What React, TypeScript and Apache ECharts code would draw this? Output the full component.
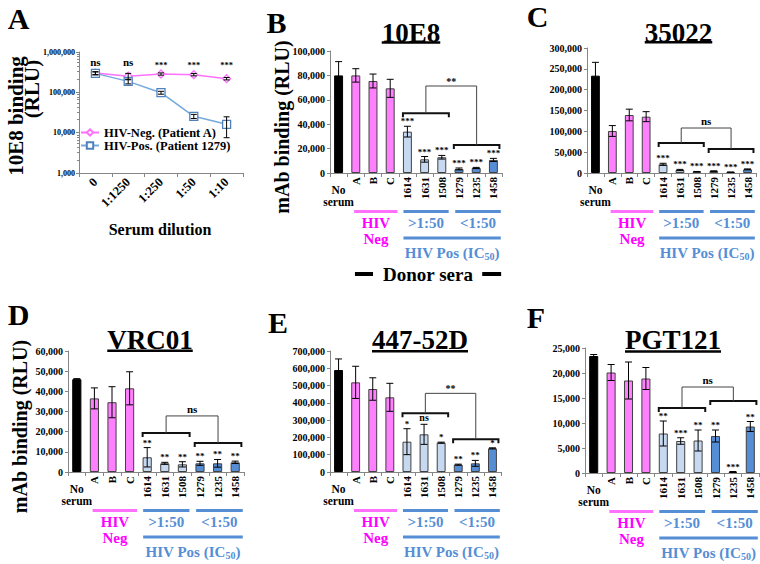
import React, { useEffect, useRef } from 'react';
import * as echarts from 'echarts';

const SERIF = "'Liberation Serif', 'Times New Roman', Times, serif";
const PINK_BAR = '#FF80FF';
const LIGHT_BLUE = '#C6D9F1';
const DARK_BLUE = '#558ED5';
const PINK_TEXT = '#FF00FF';
const PINK_LINE = '#FF70FF';
const BLUE_TEXT = '#558ED5';
const AXIS_GRAY = '#868686';

// ---------- Panel A ----------
const dilutions = ['0', '1:1250', '1:250', '1:50', '1:10'];
const negBinding = [300000, 250000, 285000, 274000, 218000];
const negError = [25000, 45000, 18000, 18000, 15000];
const posBinding = [295000, 187000, 98000, 25400, 16100];
const posError = [25000, 25000, 8000, 3000, 8600];
const dilutionSig = ['ns', 'ns', '***', '***', '***'];

// ---------- Panels B-F ----------
const donors = ['No serum', 'A', 'B', 'C', '1614', '1631', '1508', '1279', '1235', '1458'];
const donorGroup = ['none', 'neg', 'neg', 'neg', 'high', 'high', 'high', 'low', 'low', 'low'];

const b10E8 = [80000, 80000, 75400, 69400, 33900, 11200, 12900, 3300, 4100, 10700];
const b10E8Err = [11300, 5500, 5700, 7400, 4400, 2300, 1500, 800, 500, 1300];
const b10E8Sig = ['', '', '', '', '***', '***', '***', '***', '***', '***'];
const b10E8Bracket = [49000, 23000, 71300];

const b35022 = [233600, 100800, 139200, 135200, 20800, 7200, 3200, 4500, 2000, 8800];
const b35022Err = [32000, 13000, 14000, 12000, 2500, 1500, 500, 700, 300, 1000];
const b35022Sig = ['', '', '', '', '***', '***', '***', '***', '***', '***'];
const b35022Bracket = [72000, 57600, 108000];

const bVRC01 = [46000, 36500, 34600, 41500, 7300, 4300, 3800, 4300, 4300, 4800];
const bVRC01Err = [300, 5200, 7700, 8200, 4800, 500, 1300, 1000, 1900, 600];
const bVRC01Sig = ['', '', '', '', '**', '**', '**', '**', '**', '**'];
const bVRC01Bracket = [19300, 14400, 27800];

const b44752D = [590000, 518600, 480000, 432000, 175400, 217900, 169700, 42400, 50100, 136900];
const b44752DErr = [64000, 93000, 65000, 81000, 75000, 58000, 3000, 3000, 17000, 3000];
const b44752DSig = ['', '', '', '', '*', 'ns', '*', '**', '**', '*'];
const b44752DBracket = [339600, 189000, 455000];

const bPGT121 = [23400, 20100, 18500, 18900, 7900, 6400, 6500, 7400, 200, 9300];
const bPGT121Err = [300, 1600, 3700, 2200, 2500, 650, 2100, 1200, 100, 1000];
const bPGT121Sig = ['', '', '', '', '**', '***', '**', '**', '***', '**'];
const bPGT121Bracket = [13000, 14400, 17200];

const grids = [
  { left: 79, top: 52, width: 164, height: 121 },
  { left: 330, top: 51, width: 172, height: 122 },
  { left: 587, top: 48, width: 169, height: 125 },
  { left: 68, top: 351, width: 176, height: 121 },
  { left: 330, top: 351, width: 171, height: 121 },
  { left: 585, top: 348, width: 174, height: 125 },
];

const panels = [
  { title: '10E8', values: b10E8, errors: b10E8Err, sig: b10E8Sig, bracket: b10E8Bracket, bracketLabel: '**', max: 100000, interval: 20000, titleX: 411, titleY: 33, underY: 42.5, yName: true, donorSera: true },
  { title: '35022', values: b35022, errors: b35022Err, sig: b35022Sig, bracket: b35022Bracket, bracketLabel: 'ns', max: 300000, interval: 50000, titleX: 678.5, titleY: 33, underY: 42.3, yName: false, donorSera: false },
  { title: 'VRC01', values: bVRC01, errors: bVRC01Err, sig: bVRC01Sig, bracket: bVRC01Bracket, bracketLabel: 'ns', max: 60000, interval: 10000, titleX: 150, titleY: 339.5, underY: 350.7, yName: true, donorSera: false },
  { title: '447-52D', values: b44752D, errors: b44752DErr, sig: b44752DSig, bracket: b44752DBracket, bracketLabel: '**', max: 700000, interval: 100000, titleX: 420, titleY: 339.5, underY: 351.3, yName: false, donorSera: false },
  { title: 'PGT121', values: bPGT121, errors: bPGT121Err, sig: bPGT121Sig, bracket: bPGT121Bracket, bracketLabel: 'ns', max: 25000, interval: 5000, titleX: 673, titleY: 339.5, underY: 351.5, yName: false, donorSera: false },
];

const letters = [
  { t: 'A', x: 18.5, y: 18 },
  { t: 'B', x: 276.5, y: 22 },
  { t: 'C', x: 537.5, y: 16 },
  { t: 'D', x: 18.5, y: 314 },
  { t: 'E', x: 278, y: 322 },
  { t: 'F', x: 536, y: 317 },
];

const fmt = (v: number) => v.toLocaleString('en-US');
const bold = (size: number) => `bold ${size}px ${SERIF}`;

function measure(text: string, font: string) {
  const c = document.createElement('canvas').getContext('2d');
  if (!c) return text.length * 14;
  c.font = font;
  return c.measureText(text).width;
}

function txt(x: number, y: number, text: string, size: number, fill = '#000', extra: any = {}) {
  return {
    type: 'text', x, y, ...extra,
    style: { text, font: bold(size), fill, align: 'center', verticalAlign: 'middle', textAlign: 'center', textVerticalAlign: 'middle' },
  };
}

function hline(x1: number, x2: number, y: number, color: string, w: number) {
  return { type: 'line', shape: { x1, y1: y, x2, y2: y }, style: { stroke: color, lineWidth: w } };
}

export default function App() {
  const ref = useRef<HTMLDivElement>(null);
  useEffect(() => {
    document.body.style.margin = '0';
    if (!ref.current) return;
    const chart = echarts.init(ref.current, undefined, { renderer: 'svg' });

    const xAxes: any[] = [];
    const yAxes: any[] = [];
    const series: any[] = [];
    const graphics: any[] = [];

    // Panel A axes
    xAxes.push({
      type: 'category', gridIndex: 0, data: dilutions, boundaryGap: true,
      axisLine: { lineStyle: { color: AXIS_GRAY } },
      axisTick: { show: true, length: 4, lineStyle: { color: AXIS_GRAY } },
      axisLabel: { rotate: 45, margin: 7, color: '#000', fontFamily: SERIF, fontWeight: 'bold', fontSize: 12.5, interval: 0 },
    });
    yAxes.push({
      type: 'log', gridIndex: 0, min: 1000, max: 1000000, logBase: 10,
      axisLine: { show: true, lineStyle: { color: AXIS_GRAY } },
      axisTick: { show: true, length: 3, lineStyle: { color: AXIS_GRAY } },
      minorTick: { show: true, splitNumber: 8, length: 2, lineStyle: { color: AXIS_GRAY } },
      splitLine: { show: false },
      axisLabel: { formatter: (v: number) => fmt(v), color: '#000', fontFamily: SERIF, fontWeight: 'bold', fontSize: 8, margin: 4 },
    });

    series.push({
      name: 'HIV-Neg. (Patient A)', type: 'line', xAxisIndex: 0, yAxisIndex: 0, data: negBinding,
      symbol: 'diamond', symbolSize: 8, z: 3,
      lineStyle: { color: PINK_LINE, width: 1.5 },
      itemStyle: { color: '#fff', borderColor: PINK_LINE, borderWidth: 1.3 },
    });
    series.push({
      name: 'HIV-Pos. (Patient 1279)', type: 'line', xAxisIndex: 0, yAxisIndex: 0, data: posBinding,
      symbol: 'rect', symbolSize: 8, z: 3,
      lineStyle: { color: '#74A9DC', width: 1.5 },
      itemStyle: { color: '#fff', borderColor: '#4F81BD', borderWidth: 1.3 },
    });
    const lineErr = (vals: number[], errs: number[]) => ({
      type: 'custom', xAxisIndex: 0, yAxisIndex: 0, z: 6,
      data: vals.map((v, i) => [i, v]),
      renderItem: (params: any, api: any) => {
        const i = params.dataIndex;
        const t = api.coord([i, vals[i] + errs[i]]);
        const b = api.coord([i, Math.max(vals[i] - errs[i], 1001)]);
        return {
          type: 'group', children: [
            { type: 'line', shape: { x1: t[0], y1: t[1], x2: b[0], y2: b[1] }, style: { stroke: '#000', lineWidth: 1 } },
            { type: 'line', shape: { x1: t[0] - 3, y1: t[1], x2: t[0] + 3, y2: t[1] }, style: { stroke: '#000', lineWidth: 1 } },
            { type: 'line', shape: { x1: b[0] - 3, y1: b[1], x2: b[0] + 3, y2: b[1] }, style: { stroke: '#000', lineWidth: 1 } },
          ],
        };
      },
    });
    series.push(lineErr(negBinding, negError));
    series.push(lineErr(posBinding, posError));
    series.push({
      type: 'custom', xAxisIndex: 0, yAxisIndex: 0, z: 6,
      data: dilutionSig.map((_, i) => [i, 1000000]),
      renderItem: (params: any, api: any) => {
        const i = params.dataIndex;
        const p = api.coord([i, 1000000]);
        const s = dilutionSig[i];
        return {
          type: 'text', x: p[0], y: p[1] + (s === 'ns' ? 10 : 13),
          style: { text: s, font: bold(s === 'ns' ? 11 : 8.5), fill: '#000', align: 'center', verticalAlign: 'middle' },
        };
      },
    });

    // Panel A texts
    graphics.push(txt(16, 116, '10E8 binding', 21, '#000', { rotation: Math.PI / 2 }));
    graphics.push(txt(32, 89, '(RLU)', 21, '#000', { rotation: Math.PI / 2 }));
    graphics.push(txt(160, 229, 'Serum dilution', 16));

    // Bar panels
    const groupColor: any = { none: '#000000', neg: PINK_BAR, high: LIGHT_BLUE, low: DARK_BLUE };
    panels.forEach((p, k) => {
      const gi = k + 1;
      const g = grids[gi];
      const bottom = g.top + g.height;
      const cw = g.width / 10;
      xAxes.push({
        type: 'category', gridIndex: gi, data: donors,
        axisLine: { lineStyle: { color: AXIS_GRAY } },
        axisTick: { show: true, length: 4, interval: 0, lineStyle: { color: AXIS_GRAY } },
        axisLabel: {
          rotate: 90, interval: (i: number) => i !== 0, margin: 4, color: '#000', fontFamily: SERIF, fontWeight: 'bold', fontSize: 11,
        },
      });
      yAxes.push({
        type: 'value', gridIndex: gi, min: 0, max: p.max, interval: p.interval,
        axisLine: { show: true, lineStyle: { color: AXIS_GRAY } },
        axisTick: { show: true, length: 3, lineStyle: { color: AXIS_GRAY } },
        splitLine: { show: false },
        axisLabel: { formatter: (v: number) => fmt(v), color: '#000', fontFamily: SERIF, fontWeight: 'bold', fontSize: 10, margin: 5 },
      });
      series.push({
        type: 'bar', xAxisIndex: gi, yAxisIndex: gi, barWidth: '52%', z: 2,
        data: p.values.map((v, i) => ({
          value: v,
          itemStyle: { color: groupColor[donorGroup[i]], borderColor: i === 0 ? '#000' : '#404040', borderWidth: 1 },
        })),
      });
      series.push({
        type: 'custom', xAxisIndex: gi, yAxisIndex: gi, z: 6,
        data: p.values.map((v, i) => [i, v]),
        renderItem: (params: any, api: any) => {
          const i = params.dataIndex;
          const v = p.values[i], e = p.errors[i];
          const t = api.coord([i, v + e]);
          const b = api.coord([i, Math.max(v - e, 0)]);
          const ch: any[] = [
            { type: 'line', shape: { x1: t[0], y1: t[1], x2: b[0], y2: b[1] }, style: { stroke: '#000', lineWidth: 1 } },
            { type: 'line', shape: { x1: t[0] - 3.5, y1: t[1], x2: t[0] + 3.5, y2: t[1] }, style: { stroke: '#000', lineWidth: 1 } },
            { type: 'line', shape: { x1: b[0] - 3.5, y1: b[1], x2: b[0] + 3.5, y2: b[1] }, style: { stroke: '#000', lineWidth: 1 } },
          ];
          const s = p.sig[i];
          if (s) {
            ch.push({
              type: 'text', x: t[0], y: t[1] - (s === 'ns' ? 7 : 5),
              style: { text: s, font: bold(s === 'ns' ? 10 : 9), fill: '#000', align: 'center', verticalAlign: 'middle' },
            });
          }
          if (i === 0) {
            const z0 = api.coord([0, 0]);
            ch.push({ type: 'text', x: z0[0], y: z0[1] + 16.5, style: { text: 'No', font: bold(11.5), fill: '#000', align: 'center', verticalAlign: 'middle' } });
            ch.push({ type: 'text', x: z0[0], y: z0[1] + 29, style: { text: 'serum', font: bold(11.5), fill: '#000', align: 'center', verticalAlign: 'middle' } });
          }
          return { type: 'group', children: ch };
        },
      });
      // significance brackets
      series.push({
        type: 'custom', xAxisIndex: gi, yAxisIndex: gi, z: 7,
        data: [[0, 0]],
        renderItem: (params: any, api: any) => {
          const w = api.size([1, 0])[0];
          const yl = api.coord([0, p.bracket[0]])[1];
          const yr = api.coord([0, p.bracket[1]])[1];
          const yt = api.coord([0, p.bracket[2]])[1];
          const l0 = api.coord([4, 0])[0] - 0.26 * w;
          const l1 = api.coord([6, 0])[0] + 0.41 * w;
          const r0 = api.coord([7, 0])[0] - 0.3 * w;
          const r1 = api.coord([9, 0])[0] + 0.35 * w;
          const lm = (l0 + l1) / 2, rm = (r0 + r1) / 2;
          const thick = { stroke: '#111', lineWidth: 2 };
          const thin = { stroke: '#444', lineWidth: 1 };
          return {
            type: 'group', children: [
              { type: 'polyline', shape: { points: [[l0, yl + 4], [l0, yl], [l1, yl], [l1, yl + 4]] }, style: { ...thick, fill: null } },
              { type: 'polyline', shape: { points: [[r0, yr + 4], [r0, yr], [r1, yr], [r1, yr + 4]] }, style: { ...thick, fill: null } },
              { type: 'polyline', shape: { points: [[lm, yl], [lm, yt], [rm, yt], [rm, yr]] }, style: { ...thin, fill: null } },
              {
                type: 'text', x: (lm + rm) / 2, y: yt - (p.bracketLabel === 'ns' ? 7 : 5),
                style: { text: p.bracketLabel, font: bold(p.bracketLabel === 'ns' ? 11 : 10), fill: '#000', align: 'center', verticalAlign: 'middle' },
              },
            ],
          };
        },
      });

      // title with underline
      const tf = bold(27);
      const tw = measure(p.title, tf);
      graphics.push(txt(p.titleX, p.titleY, p.title, 27));
      graphics.push({ type: 'rect', shape: { x: p.titleX - tw / 2, y: p.underY - 1.2, width: tw, height: 2.4 }, style: { fill: '#000' } });

      // group labels
      const L = g.left;
      const yb1 = bottom + 38.5;
      const yb2 = bottom + 65;
      graphics.push(hline(L + 1.4 * cw, L + 3.92 * cw, yb1, PINK_LINE, 3));
      graphics.push(hline(L + 4.27 * cw, L + 6.9 * cw, yb1, BLUE_TEXT, 3));
      graphics.push(hline(L + 7.28 * cw, L + 9.93 * cw, yb1, BLUE_TEXT, 3));
      graphics.push(hline(L + 4.27 * cw, L + 9.93 * cw, yb2, BLUE_TEXT, 3));
      graphics.push(txt(L + 2.67 * cw, bottom + 49.5, 'HIV', 15, PINK_TEXT));
      graphics.push(txt(L + 2.67 * cw, bottom + 66, 'Neg', 15, PINK_TEXT));
      graphics.push(txt(L + 5.58 * cw, bottom + 49.5, '>1:50', 15, BLUE_TEXT));
      graphics.push(txt(L + 8.6 * cw, bottom + 49.5, '<1:50', 15, BLUE_TEXT));
      graphics.push({
        type: 'text', x: L + 7.1 * cw, y: bottom + 80,
        style: {
          text: '{a|HIV Pos (IC}{s|50}{a|)}',
          align: 'center', verticalAlign: 'middle', textAlign: 'center', textVerticalAlign: 'middle',
          rich: {
            a: { font: bold(15), fill: BLUE_TEXT, color: BLUE_TEXT, lineHeight: 17 },
            s: { font: bold(10), fill: BLUE_TEXT, color: BLUE_TEXT, lineHeight: 17, verticalAlign: 'bottom', padding: [6, 0, 0, 0] },
          },
        },
      });
      if (p.yName) {
        graphics.push(txt(L - 48, g.top + g.height / 2 + 15, 'mAb binding (RLU)', 20, '#000', { rotation: Math.PI / 2 }));
      }
      if (p.donorSera) {
        graphics.push(txt(L + 98, bottom + 101, 'Donor sera', 19));
        graphics.push(hline(L + 1.45 * cw, L + 2.5 * cw, bottom + 101, '#000', 4));
        graphics.push(hline(L + 8.85 * cw, L + 9.95 * cw, bottom + 101, '#000', 4));
      }
    });

    letters.forEach((l) => graphics.push(txt(l.x, l.y, l.t, 30)));

    chart.setOption({
      animation: false,
      grid: grids.map((g) => ({ ...g, containLabel: false })),
      xAxis: xAxes,
      yAxis: yAxes,
      legend: {
        data: ['HIV-Neg. (Patient A)', 'HIV-Pos. (Patient 1279)'],
        orient: 'vertical', left: 80, top: 126, itemWidth: 18, itemHeight: 8, itemGap: 0, padding: 0,
        textStyle: { fontFamily: SERIF, fontWeight: 'bold', fontSize: 12.5, color: '#000' },
      },
      series,
      graphic: graphics,
    });
    return () => chart.dispose();
  }, []);
  return <div ref={ref} style={{ width: 760, height: 564 }} />;
}
